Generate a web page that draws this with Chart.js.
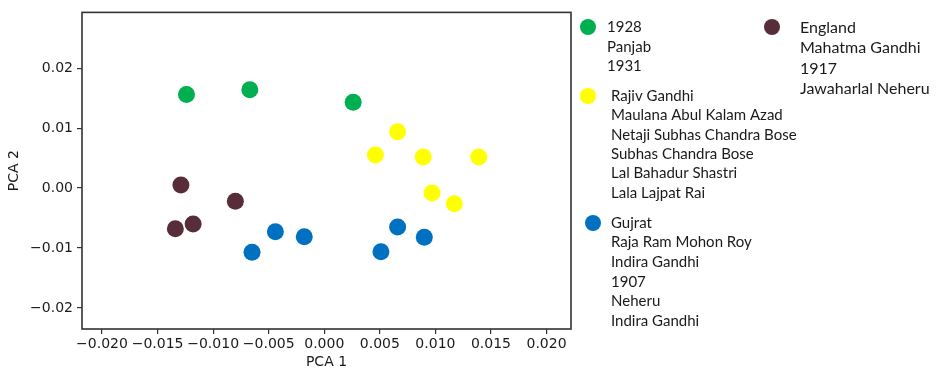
<!DOCTYPE html>
<html>
<head>
<meta charset="utf-8">
<script src="https://cdn.jsdelivr.net/npm/chart.js@4/dist/chart.umd.min.js"></script>
<style>
  html, body { margin: 0; padding: 0; background: #fff; }
  #wrap { width: 938px; height: 371px; position: relative; }
</style>
</head>
<body>
<div id="wrap"><canvas id="c" width="938" height="371"></canvas></div>
<script>
// ---- data ----
const greenX  = [-0.0124, -0.0067, 0.0026];
const greenY  = [0.0156, 0.0164, 0.0143];
const yellowX = [0.0066, 0.0046, 0.0089, 0.0139, 0.0097, 0.0117];
const yellowY = [0.0094, 0.0055, 0.0052, 0.0052, -0.0008, -0.0026];
const blueX   = [-0.0044, -0.0018, -0.0065, 0.0051, 0.0066, 0.0090];
const blueY   = [-0.0073, -0.0081, -0.0107, -0.0106, -0.0065, -0.0082];
const brownX  = [-0.0129, -0.0080, -0.0134, -0.0118];
const brownY  = [0.0005, -0.0022, -0.0068, -0.0060];

const greenLabels  = ['1928', 'Panjab', '1931'];
const yellowLabels = ['Rajiv Gandhi', 'Maulana Abul Kalam Azad', 'Netaji Subhas Chandra Bose', 'Subhas Chandra Bose', 'Lal Bahadur Shastri', 'Lala Lajpat Rai'];
const blueLabels   = ['Gujrat', 'Raja Ram Mohon Roy', 'Indira Gandhi', '1907', 'Neheru', 'Indira Gandhi'];
const brownLabels  = ['England', 'Mahatma Gandhi', '1917', 'Jawaharlal Neheru'];

const xTicks = [-0.020, -0.015, -0.010, -0.005, 0.000, 0.005, 0.010, 0.015, 0.020];
const yTicks = [-0.02, -0.01, 0.00, 0.01, 0.02];
const xTitle = 'PCA 1';
const yTitle = 'PCA 2';

const colors = { green: '#00b050', yellow: '#ffff00', blue: '#0070c0', brown: '#562d39' };

function pts(xs, ys) { return xs.map((x, i) => ({ x: x, y: ys[i] })); }
function fmt(v, d) {
  const s = Math.abs(v).toFixed(d);
  return (v < -1e-12 ? '\u2212' : '') + s;
}

const datasets = [
  { label: greenLabels,  data: pts(greenX, greenY),   backgroundColor: colors.green },
  { label: yellowLabels, data: pts(yellowX, yellowY), backgroundColor: colors.yellow },
  { label: blueLabels,   data: pts(blueX, blueY),     backgroundColor: colors.blue },
  { label: brownLabels,  data: pts(brownX, brownY),   backgroundColor: colors.brown }
].map(d => Object.assign(d, { pointRadius: 8.5, pointBorderWidth: 0, borderWidth: 0, pointHoverRadius: 8.5 }));

// legend layout (marker center, text x, first line y, line gap, font size)
const legendLayout = [
  { mx: 588, my: 27, tx: 607, ty: 27, gap: 19.8, fs: 15 },
  { mx: 588, my: 96, tx: 611, ty: 96, gap: 19.4, fs: 15 },
  { mx: 593, my: 223, tx: 611, ty: 223, gap: 19.6, fs: 15 },
  { mx: 772, my: 27, tx: 800, ty: 28, gap: 20.3, fs: 16 }
];

const framePlugin = {
  id: 'frame',
  afterDraw(chart) {
    const ctx = chart.ctx, a = chart.chartArea;
    ctx.save();
    ctx.strokeStyle = '#333333';
    ctx.lineWidth = 1.6;
    ctx.strokeRect(a.left, a.top, a.right - a.left, a.bottom - a.top);
    ctx.restore();
  }
};

const legendPlugin = {
  id: 'customLegend',
  afterDraw(chart) {
    const ctx = chart.ctx;
    ctx.save();
    ctx.textBaseline = 'middle';
    ctx.textAlign = 'left';
    chart.data.datasets.forEach((ds, i) => {
      const L = legendLayout[i];
      ctx.fillStyle = ds.backgroundColor;
      ctx.beginPath();
      ctx.arc(L.mx, L.my, 8, 0, Math.PI * 2);
      ctx.fill();
      ctx.font = L.fs + 'px Lato, "Open Sans", sans-serif';
      ctx.fillStyle = '#1a1a1a';
      ds.label.forEach((t, j) => ctx.fillText(t, L.tx, L.ty + j * L.gap));
    });
    ctx.restore();
  }
};

const axisFont = { family: '"DejaVu Sans", sans-serif', size: 14 };

new Chart(document.getElementById('c'), {
  type: 'scatter',
  data: { datasets: datasets },
  plugins: [framePlugin, legendPlugin],
  options: {
    responsive: false,
    animation: false,
    layout: { padding: { top: 11, right: 367, left: 0, bottom: 0 } },
    plugins: { legend: { display: false }, tooltip: { enabled: false } },
    scales: {
      x: {
        type: 'linear',
        min: -0.0218, max: 0.0222,
        afterBuildTicks(s) { s.ticks = xTicks.map(v => ({ value: v })); },
        afterFit(s) { s.height = 42; },
        ticks: { autoSkip: false, maxRotation: 0, minRotation: 0, padding: 2, color: '#1a1a1a', font: axisFont,
                 callback: v => fmt(v, 3) },
        grid: { drawOnChartArea: false, drawTicks: true, tickLength: 5, color: '#333', lineWidth: 1.2 },
        border: { display: false },
        title: { display: true, text: xTitle, color: '#1a1a1a', font: axisFont, padding: { top: 0, bottom: 0 } }
      },
      y: {
        type: 'linear',
        min: -0.0235, max: 0.0293,
        afterBuildTicks(s) { s.ticks = yTicks.map(v => ({ value: v })); },
        afterFit(s) { s.width = 82; },
        ticks: { autoSkip: false, padding: 4, color: '#1a1a1a', font: axisFont,
                 callback: v => fmt(v, 2) },
        grid: { drawOnChartArea: false, drawTicks: true, tickLength: 5, color: '#333', lineWidth: 1.2 },
        border: { display: false },
        title: { display: true, text: yTitle, color: '#1a1a1a', font: axisFont, padding: { top: 6, bottom: 0 } }
      }
    }
  }
});
</script>
</body>
</html>
